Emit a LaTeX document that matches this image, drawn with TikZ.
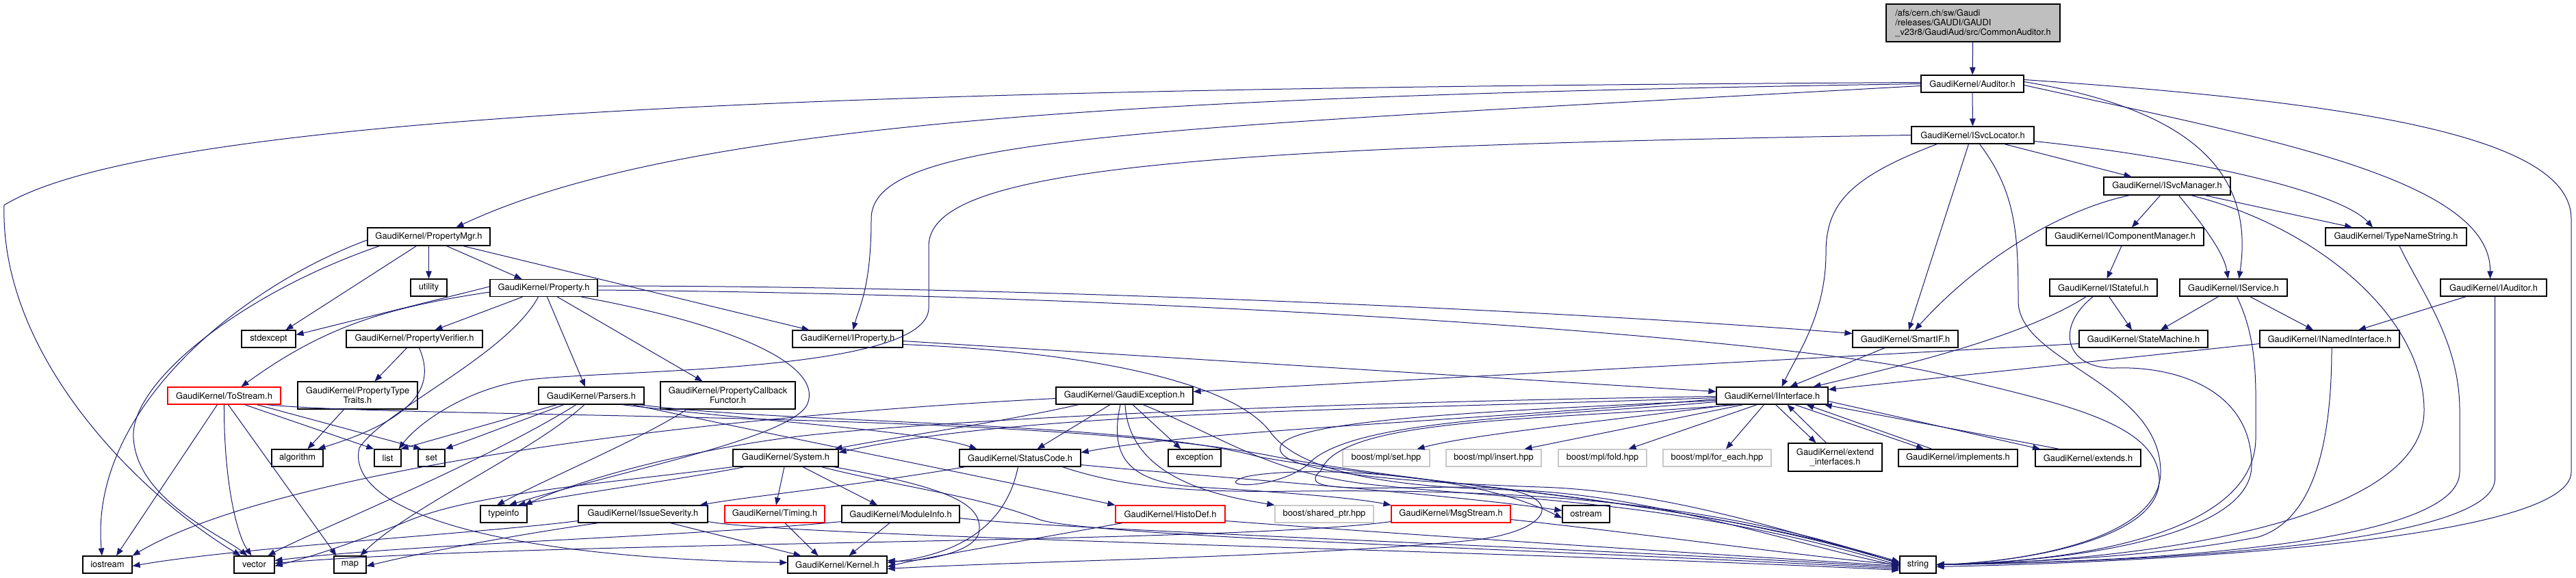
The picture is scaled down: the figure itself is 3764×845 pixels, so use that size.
\documentclass[tikz,border=0pt]{standalone}
\usepackage{fontspec}
\setmainfont{TeX Gyre Heros}
\usetikzlibrary{arrows.meta}
\definecolor{eblue}{HTML}{191970}
\definecolor{nodegray}{HTML}{BFBFBF}
\definecolor{extgray}{HTML}{C8C8C8}
\begin{document}
\begin{tikzpicture}[x=1pt,y=-1pt,font=\fontsize{12.9}{14}\selectfont,
  box/.style={draw=black,line width=1.2pt,fill=white,rectangle,inner sep=0pt,text=black,minimum height=25pt},
  gbox/.style={box,draw=extgray},
  rbox/.style={box,draw=red},
  e/.style={draw=eblue,line width=1pt,-{Triangle[length=11pt,width=8.5pt]}}]
\path[use as bounding box] (0,0) rectangle (3764,845);
% ---------- nodes ----------
\node[box,fill=nodegray,minimum width=254pt,minimum height=55pt,align=left] (root) at (2883,33.5) {/afs/cern.ch/sw/Gaudi\\/releases/GAUDI/GAUDI\\\_v23r8/GaudiAud/src/CommonAuditor.h};
\node[box,minimum width=150pt] (aud) at (2882,122.5) {GaudiKernel/Auditor.h};
\node[box,minimum width=179pt] (isl) at (2882.5,197.5) {GaudiKernel/ISvcLocator.h};
\node[box,minimum width=179pt,minimum height=26pt] (pmgr) at (626.5,346) {GaudiKernel/PropertyMgr.h};
\node[box,minimum width=185pt,minimum height=26pt] (isvm) at (3166.5,272) {GaudiKernel/ISvcManager.h};
\node[box,minimum width=230pt,minimum height=26pt] (icm) at (3105,346) {GaudiKernel/IComponentManager.h};
\node[box,minimum width=206pt,minimum height=26pt] (tns) at (3501,346) {GaudiKernel/TypeNameString.h};
\node[box,minimum width=53pt] (util) at (626.5,420.5) {utility};
\node[box,minimum width=157pt] (prop) at (794.5,421) {GaudiKernel/Property.h};
\node[box,minimum width=157pt] (istf) at (3073.5,420.5) {GaudiKernel/IStateful.h};
\node[box,minimum width=157pt] (isvc) at (3263.5,420.5) {GaudiKernel/IService.h};
\node[box,minimum width=155pt] (iaud) at (3643.5,420.5) {GaudiKernel/IAuditor.h};
\node[box,minimum width=79pt] (stdex) at (392.5,495.5) {stdexcept};
\node[box,minimum width=199pt] (pver) at (605.5,495.5) {GaudiKernel/PropertyVerifier.h};
\node[box,minimum width=161pt] (iprop) at (1238.5,495.5) {GaudiKernel/IProperty.h};
\node[box,minimum width=154pt] (smif) at (2784,495.5) {GaudiKernel/SmartIF.h};
\node[box,minimum width=188pt] (stm) at (3132,495.5) {GaudiKernel/StateMachine.h};
\node[box,minimum width=204pt] (inamed) at (3404,495.5) {GaudiKernel/INamedInterface.h};
\node[rbox,minimum width=165pt] (tostr) at (327.5,578.5) {GaudiKernel/ToStream.h};
\node[box,minimum width=175pt,minimum height=40pt,align=center] (ptt) at (522.5,578) {GaudiKernel/PropertyType\\Traits.h};
\node[box,minimum width=154pt] (pars) at (864,578.5) {GaudiKernel/Parsers.h};
\node[box,minimum width=197pt,minimum height=40pt,align=center] (pcf) at (1063.5,578) {GaudiKernel/PropertyCallback\\Functor.h};
\node[box,minimum width=200pt] (gexc) at (1643,578.5) {GaudiKernel/GaudiException.h};
\node[box,minimum width=163pt] (iif) at (2589.5,578.5) {GaudiKernel/IInterface.h};
\node[box,minimum width=75pt] (algo) at (434.5,669.5) {algorithm};
\node[box,minimum width=39pt] (list) at (566.5,669.5) {list};
\node[box,minimum width=39pt] (set) at (630.5,669.5) {set};
\node[box,minimum width=154pt] (sys) at (1148,669.5) {GaudiKernel/System.h};
\node[box,minimum width=177pt] (sc) at (1490.5,669.5) {GaudiKernel/StatusCode.h};
\node[box,minimum width=77pt] (exc) at (1745.5,669.5) {exception};
\node[gbox,minimum width=127pt] (bset) at (2025.5,669.5) {boost/mpl/set.hpp};
\node[gbox,minimum width=139pt] (bins) at (2182.5,669.5) {boost/mpl/insert.hpp};
\node[gbox,minimum width=129pt] (bfold) at (2341.5,669.5) {boost/mpl/fold.hpp};
\node[gbox,minimum width=158pt] (bfe) at (2509,669.5) {boost/mpl/for\_each.hpp};
\node[box,minimum width=137pt,minimum height=41pt,align=center] (extif) at (2681.5,668.5) {GaudiKernel/extend\\\_interfaces.h};
\node[box,minimum width=174pt] (impl) at (2861,669.5) {GaudiKernel/implements.h};
\node[box,minimum width=154pt] (extends) at (3051,669.5) {GaudiKernel/extends.h};
\node[box,minimum width=68pt] (typeinfo) at (736,751.5) {typeinfo};
\node[box,minimum width=189pt] (iss) at (939.5,751.5) {GaudiKernel/IssueSeverity.h};
\node[rbox,minimum width=146pt] (timing) at (1132,751.5) {GaudiKernel/Timing.h};
\node[box,minimum width=172pt] (modinfo) at (1316,751.5) {GaudiKernel/ModuleInfo.h};
\node[rbox,minimum width=160pt] (histo) at (1710,751.5) {GaudiKernel/HistoDef.h};
\node[gbox,minimum width=144pt] (bsp) at (1935,751.5) {boost/shared\_ptr.hpp};
\node[rbox,minimum width=174pt] (msgs) at (2120,751.5) {GaudiKernel/MsgStream.h};
\node[box,minimum width=69pt] (ostream) at (2317.5,751.5) {ostream};
\node[box,minimum width=72pt] (iostream) at (157,825.5) {iostream};
\node[box,minimum width=59pt] (vector) at (371.5,825.5) {vector};
\node[box,minimum width=47pt] (map) at (511.5,825.5) {map};
\node[box,minimum width=145pt] (kernel) at (1223.5,825.5) {GaudiKernel/Kernel.h};
\node[box,minimum width=53pt] (string) at (2802.5,825.5) {string};
% ---------- edges ----------
\draw[e] (root) -- (aud);
\draw[e] (aud) -- (isl);
% Auditor.h
\draw[e] ([yshift=2pt]aud.west) .. controls (1500,128) and (250,150) .. (6,300) .. controls (0,520) and (200,720) .. ([xshift=-20pt]vector.north);
\draw[e] (aud.west) .. controls (1700,140) and (1000,175) .. ([xshift=40pt]pmgr.north);
\draw[e] ([yshift=-3pt]aud.west) .. controls (1650,190) and (1273,200) .. (1273,320) .. controls (1273,420) and (1255,450) .. ([xshift=8pt]iprop.north);
\draw[e] ([yshift=3pt]aud.east) .. controls (3200,160) and (3295,250) .. ([xshift=8pt]isvc.north);
\draw[e] ([yshift=-2pt]aud.east) .. controls (3300,200) and (3640,260) .. ([xshift=-5pt]iaud.north);
\draw[e] ([yshift=6pt]aud.east) .. controls (3450,150) and (3757,200) .. (3757,320) -- (3757,690) .. controls (3757,790) and (3150,822) .. ([yshift=-3pt]string.east);
% ISvcLocator.h
\draw[e] ([xshift=46pt]isl.south) -- ([xshift=-52pt]isvm.north);
\draw[e] ([yshift=-9pt]isl.east) .. controls (3200,230) and (3420,280) .. ([xshift=-34pt]tns.north);
\draw[e] ([xshift=-6pt]isl.south) -- ([xshift=5pt]smif.north);
\draw[e] ([xshift=-52pt]isl.south) .. controls (2700,260) and (2668,300) .. (2668,370) .. controls (2668,460) and (2625,520) .. ([xshift=14pt]iif.north);
\draw[e] (isl.west) .. controls (1700,215) and (1357,250) .. (1357,360) -- (1357,450) .. controls (1357,545) and (900,540) .. (773,555) .. controls (680,568) and (610,620) .. ([xshift=-4pt]list.north east);
\draw[e] ([xshift=10pt]isl.south) .. controls (2945,280) and (2949,340) .. (2949,440) .. controls (2949,530) and (3157,560) .. (3157,690) .. controls (3157,790) and (2950,822) .. (string.east);
% ISvcManager.h
\draw[e] ([xshift=-55pt]isvm.south) .. controls (3020,305) and (2900,370) .. ([xshift=14pt]smif.north);
\draw[e] ([xshift=-10pt]isvm.south) -- ([xshift=10pt]icm.north);
\draw[e] ([xshift=17pt]isvm.south) .. controls (3220,330) and (3250,370) .. ([xshift=-8pt]isvc.north);
\draw[e] ([xshift=35pt]isvm.south) .. controls (3380,330) and (3542,460) .. (3542,600) .. controls (3542,770) and (3100,822) .. (string.east);
\draw[e] ([xshift=55pt]isvm.south) -- ([xshift=-64pt]tns.north);
% other interface headers
\draw[e] ([xshift=-5pt]icm.south) -- ([xshift=5pt]istf.north);
\draw[e] ([xshift=5pt]tns.south) .. controls (3540,430) and (3594,500) .. (3594,600) -- (3594,690) .. controls (3594,800) and (3100,822) .. (string.east);
\draw[e] ([xshift=8pt]istf.south) -- ([xshift=-17pt]stm.north);
\draw[e] ([xshift=-25pt]istf.south) .. controls (2960,490) and (2800,530) .. ([xshift=60pt]iif.north);
\draw[e] ([xshift=-15pt]istf.south) .. controls (3000,480) and (3020,540) .. (3091,538) .. controls (3180,535) and (3290,570) .. (3290,680) .. controls (3290,790) and (3000,822) .. (string.east);
\draw[e] ([xshift=-22pt]isvc.south) -- ([xshift=25pt]stm.north);
\draw[e] ([xshift=24pt]isvc.south) -- ([xshift=-24pt]inamed.north);
\draw[e] ([xshift=5pt]isvc.south) .. controls (3300,500) and (3296,560) .. (3296,640) .. controls (3296,790) and (3000,822) .. (string.east);
\draw[e] ([xshift=-40pt]iaud.south) -- ([xshift=42pt]inamed.north);
\draw[e] ([xshift=2pt]iaud.south) -- (3645.5,700) .. controls (3645.5,800) and (3100,822) .. (string.east);
\draw[e] ([yshift=-7pt]stm.west) -- ([yshift=6pt]gexc.east);
\draw[e] ([yshift=-7pt]inamed.west) -- ([yshift=9pt]iif.east);
\draw[e] ([xshift=3pt]inamed.south) .. controls (3407,650) and (3380,760) .. (3300,785) .. controls (3150,815) and (2950,822) .. (string.east);
\draw[e] ([xshift=-30pt]smif.south) -- ([xshift=26pt]iif.north);
% PropertyMgr.h
\draw[e] (pmgr.south) -- (util.north);
\draw[e] ([xshift=26pt]pmgr.south) -- ([xshift=-32pt]prop.north);
\draw[e] ([xshift=-18pt]pmgr.south) -- ([xshift=25pt]stdex.north);
\draw[e] ([xshift=50pt]pmgr.south) -- ([xshift=-56pt]iprop.north);
\draw[e] ([yshift=-5pt]pmgr.west) .. controls (350,420) and (130,600) .. ([xshift=-8pt]iostream.north);
\draw[e] ([xshift=-72pt]pmgr.south) .. controls (350,430) and (190,560) .. (195,640) .. controls (200,730) and (320,780) .. ([xshift=-10pt]vector.north);
% Property.h
\draw[e] ([yshift=2pt]prop.west) -- ([yshift=6pt]stdex.east);
\draw[e] ([yshift=-6pt]prop.west) .. controls (560,450) and (470,480) .. ([xshift=25pt]tostr.north);
\draw[e] ([xshift=-31pt]prop.south) -- ([xshift=30pt]pver.north);
\draw[e] ([xshift=5pt]prop.south) -- ([xshift=-9pt]pars.north);
\draw[e] ([xshift=20pt]prop.south) -- ([xshift=-37pt]pcf.north);
\draw[e] ([yshift=3pt]prop.east) .. controls (1500,418) and (2300,455) .. ([yshift=8pt]smif.west);
\draw[e] ([yshift=-3pt]prop.east) .. controls (1800,432) and (2650,500) .. (2840,548) .. controls (3000,588) and (3152,615) .. (3155,700) .. controls (3158,790) and (2950,822) .. (string.east);
\draw[e] ([xshift=-8pt]prop.south) .. controls (740,520) and (560,600) .. (525,655) .. controls (505,740) and (700,815) .. ([yshift=3pt]kernel.west);
\draw[e] ([xshift=55pt]prop.south) .. controls (1100,480) and (1200,540) .. (1180,590) .. controls (1160,640) and (900,690) .. ([xshift=8pt]typeinfo.north);
% PropertyVerifier.h / PropertyTypeTraits.h / PropertyCallbackFunctor.h
\draw[e] ([xshift=-11pt]pver.south) -- ([xshift=25pt]ptt.north);
\draw[e] ([xshift=7pt]pver.south) .. controls (635,560) and (615,610) .. ([xshift=30pt]algo.north);
\draw[e] ([xshift=-20pt]ptt.south) -- ([xshift=15pt]algo.north);
\draw[e] ([xshift=-60pt]pcf.south) .. controls (940,640) and (820,690) .. ([xshift=-10pt]typeinfo.north);
% ToStream.h
\draw[e] ([xshift=-10pt]tostr.south) -- ([xshift=13pt]iostream.north);
\draw[e] (tostr.south) .. controls (327,700) and (345,780) .. ([xshift=-4pt]vector.north);
\draw[e] ([xshift=6pt]tostr.south) -- ([xshift=-20pt]map.north);
\draw[e] ([xshift=30pt]tostr.south) -- (list.north west);
\draw[e] ([xshift=48pt]tostr.south) -- ([xshift=-15pt]set.north);
\draw[e] ([xshift=62pt]tostr.south) .. controls (600,612) and (1500,600) .. (1850,665) .. controls (2100,715) and (2450,725) .. ([yshift=4pt]string.west);
% Parsers.h
\draw[e] ([xshift=-50pt]pars.south) -- ([xshift=-1pt]list.north east);
\draw[e] ([xshift=-40pt]pars.south) -- (set.north east);
\draw[e] ([xshift=-22pt]pars.south) .. controls (700,680) and (450,780) .. ([xshift=20pt]vector.north);
\draw[e] ([xshift=-10pt]pars.south) .. controls (780,660) and (600,740) .. ([xshift=15pt]map.north);
\draw[e] ([xshift=45pt]pars.south) .. controls (1100,615) and (1350,630) .. ([xshift=-63pt]sc.north);
\draw[e] ([xshift=60pt]pars.south) .. controls (1200,650) and (1450,700) .. (histo.north west);
\draw[e] ([xshift=70pt]pars.south) .. controls (1150,620) and (1650,615) .. (1840,668) .. controls (2090,712) and (2440,722) .. ([yshift=2pt]string.west);
% GaudiException.h
\draw[e] ([yshift=-4pt]gexc.west) .. controls (1000,610) and (400,690) .. (iostream.north east);
\draw[e] ([xshift=-67pt]gexc.south) .. controls (1450,620) and (1300,640) .. ([xshift=-6pt]sys.north east);
\draw[e] ([xshift=-21pt]gexc.south) -- ([xshift=25pt]sc.north);
\draw[e] ([xshift=12pt]gexc.south) -- ([xshift=-20pt]exc.north);
\draw[e] ([xshift=27pt]gexc.south) .. controls (1790,640) and (1850,690) .. (2000,708) .. controls (2200,730) and (2450,730) .. ([yshift=-1pt]string.west);
\draw[e] ([xshift=-6pt]gexc.south) .. controls (1620,670) and (1650,705) .. (1750,712) .. controls (1880,720) and (1980,728) .. (msgs.north west);
\draw[e] ([xshift=1pt]gexc.south) .. controls (1650,700) and (1780,725) .. (bsp.north west);
% IProperty.h
\draw[e] ([yshift=-3pt]iprop.east) -- ([yshift=6pt]iif.west);
\draw[e] ([yshift=-8pt]iprop.east) .. controls (1600,515) and (1800,560) .. (1855,630) .. controls (1900,695) and (2050,712) .. (2200,716) .. controls (2400,720) and (2600,790) .. ([yshift=-2pt]string.west);
% System.h
\draw[e] ([xshift=-60pt]sys.south) .. controls (1000,700) and (850,720) .. ([xshift=-14pt]typeinfo.north east);
\draw[e] (sys.south west) .. controls (900,705) and (700,720) .. (600,760) .. controls (500,800) and (450,815) .. ([yshift=-2pt]vector.east);
\draw[e] ([xshift=-2pt]sys.south) -- ([xshift=2pt]timing.north);
\draw[e] ([xshift=25pt]sys.south) -- ([xshift=-34pt]modinfo.north);
\draw[e] ([xshift=52pt]sys.south) .. controls (1330,715) and (1430,725) .. (1520,760) .. controls (1600,785) and (2300,805) .. ([yshift=-6pt]string.west);
\draw[e] ([xshift=70pt]sys.south) .. controls (1380,712) and (1440,735) .. (1430,780) .. controls (1420,810) and (1340,822) .. ([yshift=6pt]kernel.east);
% StatusCode.h
\draw[e] ([xshift=-80pt]sc.south) .. controls (1250,710) and (1100,725) .. ([xshift=-12pt]iss.north east);
\draw[e] ([xshift=-3pt]sc.south) .. controls (1470,770) and (1400,810) .. ([yshift=3pt]kernel.east);
\draw[e] ([xshift=62pt]sc.south) .. controls (1650,715) and (1750,720) .. (1900,718) .. controls (2150,716) and (2480,722) .. ([yshift=1pt]string.west);
\draw[e] ([yshift=-10pt]sc.east) .. controls (1700,692) and (2100,720) .. ([yshift=5pt]ostream.west);
% IssueSeverity.h, Timing.h, ModuleInfo.h, HistoDef.h, MsgStream.h
\draw[e] ([xshift=40pt]iss.south) -- ([xshift=-53pt]kernel.north);
\draw[e] ([yshift=-10pt]iss.west) .. controls (700,780) and (350,800) .. ([yshift=-2pt]iostream.east);
\draw[e] ([xshift=-65pt]iss.south) .. controls (800,775) and (650,800) .. ([yshift=-2pt]map.east);
\draw[e] ([yshift=-11pt]iss.east) .. controls (1150,785) and (2200,805) .. ([yshift=-8pt]string.west);
\draw[e] ([xshift=15pt]timing.south) -- ([xshift=-28pt]kernel.north);
\draw[e] ([xshift=-16pt]modinfo.south) -- ([xshift=17pt]kernel.north);
\draw[e] ([yshift=-6pt]modinfo.east) .. controls (1550,775) and (2300,800) .. ([yshift=-4pt]string.west);
\draw[e] ([yshift=-11pt]modinfo.west) .. controls (1000,785) and (600,795) .. ([yshift=6pt]vector.east);
\draw[e] ([xshift=-70pt]histo.south) .. controls (1500,790) and (1350,815) .. ([yshift=-3pt]kernel.east);
\draw[e] ([yshift=-10pt]histo.east) .. controls (2100,785) and (2500,810) .. ([yshift=-2pt]string.west);
\draw[e] ([yshift=-8pt]msgs.east) .. controls (2400,780) and (2650,815) .. (string.west);
\draw[e] ([yshift=-11pt]msgs.west) .. controls (1800,795) and (800,790) .. ([yshift=2pt]vector.east);
% IInterface.h
\draw[e] ([xshift=-60pt]iif.south) .. controls (2350,615) and (2150,635) .. ([xshift=45pt]bset.north);
\draw[e] ([xshift=-42pt]iif.south) -- ([xshift=45pt]bins.north);
\draw[e] ([xshift=-22pt]iif.south) -- ([xshift=38pt]bfold.north);
\draw[e] ([xshift=-12pt]iif.south) -- ([xshift=13pt]bfe.north);
\draw[e] ([xshift=5pt]iif.south) -- ([xshift=-28pt]extif.north);
\draw[e] ([xshift=-13pt]extif.north) -- ([xshift=22pt]iif.south);
\draw[e] ([xshift=33pt]iif.south) -- ([xshift=-50pt]impl.north);
\draw[e] ([xshift=-38pt]impl.north) -- ([xshift=50pt]iif.south);
\draw[e] ([yshift=-8pt]iif.east) -- ([xshift=-70pt]extends.north);
\draw[e] ([xshift=-42pt]extends.north) -- ([xshift=-6pt]iif.south east);
\draw[e] ([yshift=-3pt]iif.west) .. controls (2000,600) and (1500,600) .. ([yshift=8pt]sys.east);
\draw[e] ([yshift=-5pt]iif.west) .. controls (2100,618) and (1750,630) .. ([yshift=8pt]sc.east);
\draw[e] ([yshift=-1pt]iif.west) .. controls (1800,590) and (1300,620) .. (1150,640) .. controls (1000,660) and (850,700) .. ([xshift=-4pt]typeinfo.north east);
\draw[e] ([yshift=-9pt]iif.west) .. controls (2250,610) and (1970,612) .. (1910,680) .. controls (1860,718) and (1770,712) .. (1820,697) .. controls (1900,680) and (2150,690) .. ([yshift=-6pt]ostream.west);
\draw[e] ([xshift=-50pt]iif.south) .. controls (2250,615) and (1960,610) .. (1930,688) .. controls (1890,722) and (2000,712) .. (2150,712) .. controls (2290,712) and (2285,775) .. (2150,790) .. controls (1900,815) and (1500,820) .. ([yshift=-6pt]kernel.east);
\draw[e] ([yshift=-7pt]iif.west) .. controls (2200,600) and (1900,612) .. (1872,650) .. controls (1850,690) and (2050,705) .. (2250,712) .. controls (2450,718) and (2650,790) .. ([yshift=3pt]string.west);
\end{tikzpicture}
\end{document}
